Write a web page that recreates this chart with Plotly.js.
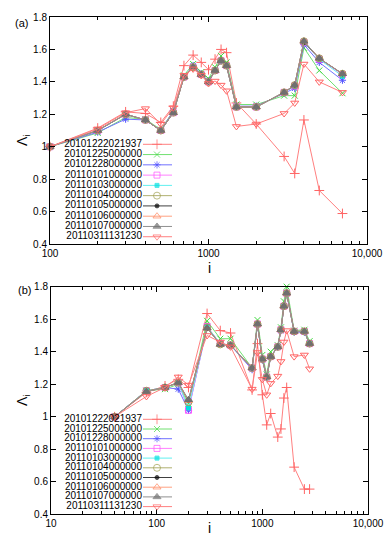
<!DOCTYPE html>
<html><head><meta charset="utf-8">
<script src="https://cdn.plot.ly/plotly-3.0.1.min.js"></script>
<style>html,body{margin:0;padding:0;background:#fff}#chart{width:391px;height:550px}</style>
</head><body><div id="chart"></div>
<script>
// ---------- data ----------
const seriesNames = ['20101222021937','20101225000000','20101228000000','20110101000000','20110103000000',
  '20110104000000','20110105000000','20110106000000','20110107000000','20110311131230'];

const iTop = [100,200,300,400,500,600,700,800,900,1000,1100,1200,1300,1500,2000,3000,3500,4000,5000,7000];
const topS1  = [1.0,1.115,1.215,1.205,1.15,1.25,1.50,1.565,1.52,1.475,1.54,1.60,1.58,1.27,1.14,0.94,0.835,1.165,0.73,0.588];
const topS2  = [1.0,1.085,1.18,1.17,1.105,1.22,1.44,1.51,1.46,1.42,1.49,1.56,1.52,1.26,1.26,1.315,1.315,1.61,1.47,1.33];
const topS3  = [1.0,1.09,1.17,1.165,1.10,1.22,1.43,1.50,1.45,1.405,1.47,1.53,1.50,1.25,1.25,1.33,1.36,1.63,1.52,1.41];
const topS4  = [1.0,1.10,1.20,1.165,1.10,1.21,1.43,1.49,1.445,1.40,1.47,1.53,1.50,1.245,1.245,1.335,1.375,1.645,1.54,1.445];
const topS5  = [1.0,1.10,1.20,1.165,1.10,1.21,1.43,1.49,1.445,1.40,1.47,1.53,1.50,1.245,1.245,1.335,1.375,1.645,1.54,1.435];
const topS6  = [1.0,1.10,1.20,1.165,1.10,1.21,1.43,1.49,1.445,1.40,1.47,1.53,1.50,1.245,1.245,1.335,1.38,1.65,1.545,1.45];
const topS7  = [1.0,1.10,1.20,1.165,1.10,1.21,1.43,1.49,1.445,1.40,1.47,1.53,1.50,1.245,1.245,1.335,1.38,1.645,1.545,1.45];
const topS8  = [1.0,1.10,1.20,1.165,1.10,1.21,1.43,1.49,1.445,1.40,1.47,1.53,1.50,1.245,1.245,1.335,1.38,1.65,1.545,1.45];
const topS9  = [1.0,1.10,1.20,1.165,1.10,1.21,1.43,1.49,1.445,1.40,1.47,1.53,1.50,1.245,1.245,1.335,1.38,1.65,1.545,1.45];
const topS10 = [1.0,1.11,1.21,1.235,1.14,1.24,1.44,1.48,1.44,1.39,1.405,1.38,1.345,1.125,1.14,1.205,1.27,1.51,1.40,1.335];

const iBot = [40,80,120,160,200,300,400,500,800,900,1000,1100,1200,1400,1500,1600,1700,2000,2500,2800];
const botS1  = [1.0,1.15,1.19,1.23,1.18,1.635,1.53,1.515,1.165,1.45,1.135,0.95,1.02,0.875,0.925,1.115,1.18,0.69,0.555,0.555];
const botS2  = [1.0,1.16,1.17,1.20,1.08,1.59,1.48,1.48,1.30,1.595,1.38,1.26,1.40,1.44,1.55,1.71,1.80,1.53,1.535,1.465];
const botS3  = [1.0,1.16,1.18,1.17,1.04,1.55,1.45,1.44,1.29,1.57,1.35,1.24,1.37,1.43,1.53,1.68,1.76,1.52,1.52,1.45];
const botS4  = [1.0,1.16,1.18,1.21,1.04,1.555,1.45,1.44,1.30,1.57,1.355,1.245,1.37,1.43,1.535,1.68,1.76,1.525,1.525,1.45];
const botS5  = [1.0,1.16,1.18,1.21,1.055,1.555,1.45,1.44,1.30,1.57,1.355,1.245,1.37,1.43,1.535,1.68,1.76,1.525,1.525,1.45];
const botS6  = [1.0,1.16,1.18,1.21,1.09,1.55,1.445,1.44,1.30,1.57,1.355,1.245,1.37,1.43,1.535,1.68,1.76,1.525,1.525,1.45];
const botS7  = [1.0,1.155,1.18,1.21,1.10,1.545,1.445,1.44,1.30,1.57,1.355,1.245,1.37,1.43,1.535,1.68,1.76,1.525,1.525,1.45];
const botS8  = [1.0,1.155,1.18,1.21,1.10,1.545,1.445,1.44,1.30,1.57,1.355,1.245,1.37,1.43,1.535,1.68,1.76,1.525,1.525,1.45];
const botS9  = [1.0,1.155,1.18,1.21,1.105,1.545,1.445,1.44,1.30,1.57,1.355,1.245,1.37,1.43,1.535,1.68,1.76,1.525,1.525,1.45];
const botS10 = [1.0,1.125,1.18,1.245,1.195,1.50,1.46,1.43,1.17,1.395,1.23,1.135,1.205,1.25,1.34,1.46,1.53,1.37,1.38,1.295];

const topTickVals = [100,1000,10000];
const topTickText = ['100','1000','10,000'];
const botTickVals = [10,100,1000,10000];
const botTickText = ['10','100','1000','10,000'];

// ---------- styles ----------
const colors  = ['#ff6464','#40d840','#5050ff','#ff50ff','#00e0e0','#a0a050','#000000','#ff8860','#707070','#ff6464'];
const lineCol = ['#ff8080','#70e070','#7070ff','#ff80ff','#60f0f0','#b0b070','#404040','#ffa080','#909090','#ff8080'];
const symbols = ['cross-thin-open','x-thin-open','asterisk-open','square-open','square','circle-open','circle','triangle-up-open','triangle-up','triangle-down-open'];
const msizes  = [7,6,6,6,4,7,4,7,7,7];

const W = 391, H = 550;
const px = v => v / W;
const py = v => 1 - v / H;

const topData = [topS1,topS2,topS3,topS4,topS5,topS6,topS7,topS8,topS9,topS10];
const botData = [botS1,botS2,botS3,botS4,botS5,botS6,botS7,botS8,botS9,botS10];

function markerFor(k, size) {
  return {symbol: symbols[k], size: size, color: colors[k], line: {color: colors[k], width: 1}};
}

const traces = [];
topData.forEach((ys, k) => traces.push({
  type: 'scatter', mode: 'lines+markers', x: iTop, y: ys, xaxis: 'x', yaxis: 'y',
  name: seriesNames[k], line: {color: lineCol[k], width: 1}, marker: markerFor(k, msizes[k]), cliponaxis: false
}));
botData.forEach((ys, k) => traces.push({
  type: 'scatter', mode: 'lines+markers', x: iBot, y: ys, xaxis: 'x2', yaxis: 'y2',
  name: seriesNames[k], line: {color: lineCol[k], width: 1}, marker: markerFor(k, msizes[k]), cliponaxis: false
}));

// hand-built key (sample on the right of the label, as in the original), on a pixel-scaled overlay axis
function addKey(y0, dy) {
  const rows = seriesNames.map((_, k) => y0 + k * dy);
  traces.push({type: 'scatter', mode: 'text', x: rows.map(() => 142), y: rows, text: seriesNames,
    textposition: 'middle left', textfont: {family: 'Liberation Sans, Arial, sans-serif', size: 10, color: '#000'},
    xaxis: 'x3', yaxis: 'y3', cliponaxis: false, hoverinfo: 'skip'});
  seriesNames.forEach((_, k) => traces.push({
    type: 'scatter', mode: 'lines+markers', x: [143, 157, 172], y: [rows[k], rows[k], rows[k]],
    xaxis: 'x3', yaxis: 'y3', line: {color: lineCol[k], width: 1},
    marker: Object.assign(markerFor(k, msizes[k]), {size: [0, msizes[k], 0]}), cliponaxis: false, hoverinfo: 'skip'
  }));
}
addKey(144.3, 10.27);
addKey(419.3, 9.7);

const font = {family: 'Liberation Sans, Arial, sans-serif', size: 10, color: '#000'};
function minorVals(decades) {
  const out = [];
  decades.forEach(d => { for (let m = 2; m <= 9; m++) out.push(m * d); });
  return out;
}
function xAx(domain, range, tv, tt, decades, anchor) {
  return {type: 'log', domain: domain, range: range, anchor: anchor, showline: true, linecolor: '#000', linewidth: 1,
    mirror: 'allticks', ticks: 'inside', ticklen: 5, tickcolor: '#000', tickmode: 'array', tickvals: tv, ticktext: tt,
    minor: {tickmode: 'array', tickvals: minorVals(decades), ticks: 'inside', ticklen: 3, tickcolor: '#000', showgrid: false},
    showgrid: false, zeroline: false, tickfont: font, fixedrange: true};
}
function yAx(domain, anchor) {
  return {domain: domain, range: [0.4, 1.8], anchor: anchor, showline: true, linecolor: '#000', linewidth: 1,
    mirror: 'allticks', ticks: 'inside', ticklen: 5, tickcolor: '#000', tickmode: 'linear', tick0: 0.4, dtick: 0.2,
    showgrid: false, zeroline: false, tickfont: font, fixedrange: true};
}

const layout = {
  width: W, height: H, margin: {l: 0, r: 0, t: 0, b: 0}, showlegend: false,
  paper_bgcolor: '#fff', plot_bgcolor: 'rgba(0,0,0,0)', font: font,
  xaxis:  xAx([px(50), px(367)], [2, 4], topTickVals, topTickText, [100, 1000], 'y'),
  yaxis:  yAx([py(244), py(17)], 'x'),
  xaxis2: xAx([px(51), px(368)], [1, 4], botTickVals, botTickText, [10, 100, 1000], 'y2'),
  yaxis2: yAx([py(514.3), py(286.7)], 'x2'),
  xaxis3: {domain: [0, 1], range: [0, W], visible: false, anchor: 'y3', fixedrange: true},
  yaxis3: {domain: [0, 1], range: [H, 0], visible: false, anchor: 'x3', fixedrange: true},
  annotations: [
    {text: '(a)', x: px(13), y: py(15), xref: 'paper', yref: 'paper', showarrow: false, font: {family: font.family, size: 11}},
    {text: '(b)', x: px(16), y: py(290), xref: 'paper', yref: 'paper', showarrow: false, font: {family: font.family, size: 11}},
    {text: 'Λ<sub>i</sub>', x: px(12), y: py(132), xref: 'paper', yref: 'paper', showarrow: false, textangle: -90, font: {family: font.family, size: 14}},
    {text: 'Λ<sub>i</sub>', x: px(12), y: py(408), xref: 'paper', yref: 'paper', showarrow: false, textangle: -90, font: {family: font.family, size: 14}},
    {text: 'i', x: px(209), y: py(268), xref: 'paper', yref: 'paper', showarrow: false, font: {family: font.family, size: 14}},
    {text: 'i', x: px(209), y: py(538), xref: 'paper', yref: 'paper', showarrow: false, font: {family: font.family, size: 14}}
  ]
};

Plotly.newPlot('chart', traces, layout, {staticPlot: true, displayModeBar: false});
</script>
</body></html>
